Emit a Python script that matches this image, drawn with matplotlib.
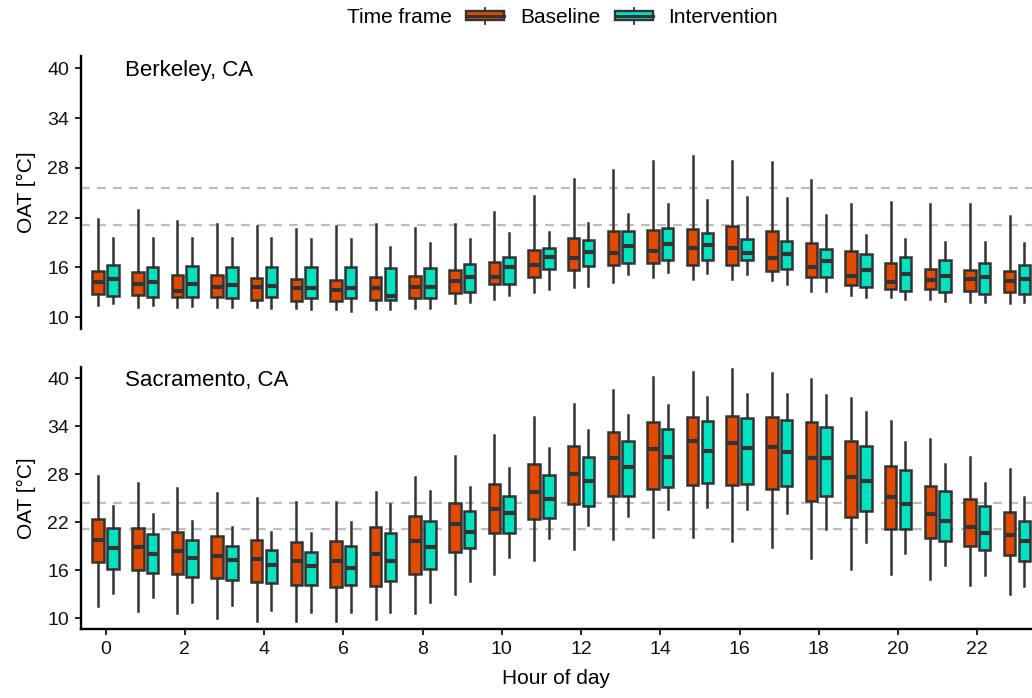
import matplotlib
matplotlib.use("Agg")
import matplotlib.pyplot as plt
from matplotlib.legend_handler import HandlerBase
from matplotlib.patches import Rectangle, Patch
from matplotlib.lines import Line2D

plt.rcParams['font.family'] = ['Liberation Sans', 'DejaVu Sans']

# ---------------- data ----------------
hours = list(range(24))
groups = ['Baseline', 'Intervention']
colors = {'Baseline': '#E24A00', 'Intervention': '#00E3C1'}
EDGE = '#333333'

# Berkeley, CA - Baseline
berk_base_hi  = [21.9, 22.9, 21.6, 21.2, 21.0, 20.6, 21.0, 21.2, 20.8, 21.3, 22.7, 24.6,
                 26.7, 27.7, 28.8, 29.4, 28.8, 28.7, 26.6, 23.7, 23.9, 23.6, 23.7, 22.2]
berk_base_q3  = [15.6, 15.4, 15.1, 15.1, 14.7, 14.6, 14.5, 14.8, 15.0, 15.7, 16.7, 18.1,
                 19.6, 20.4, 20.5, 20.6, 21.0, 20.4, 19.0, 18.0, 16.6, 15.8, 15.7, 15.6]
berk_base_med = [14.2, 14.0, 13.2, 13.6, 13.6, 13.5, 13.3, 13.5, 13.6, 14.4, 14.8, 16.3,
                 17.2, 17.8, 18.0, 18.3, 18.4, 17.2, 16.1, 15.0, 14.3, 14.5, 14.6, 14.4]
berk_base_q1  = [12.8, 12.7, 12.5, 12.4, 12.1, 12.0, 12.0, 12.1, 12.3, 12.9, 14.0, 14.8,
                 15.7, 16.3, 16.5, 16.3, 16.3, 15.6, 14.8, 13.9, 13.4, 13.4, 13.2, 13.0]
berk_base_lo  = [11.5, 11.3, 11.2, 11.3, 11.2, 11.1, 11.0, 11.0, 11.1, 11.7, 12.2, 13.0,
                 13.6, 14.3, 14.8, 14.6, 14.6, 14.5, 13.2, 12.7, 12.4, 12.2, 11.9, 11.7]

# Berkeley, CA - Intervention
berk_int_hi  = [19.5, 19.5, 19.5, 19.5, 19.5, 19.4, 19.4, 18.5, 18.9, 19.4, 20.1, 20.3,
                21.4, 22.5, 23.6, 24.1, 24.5, 24.4, 22.3, 19.9, 19.4, 19.1, 19.1, 19.0]
berk_int_q3  = [16.3, 16.1, 16.2, 16.1, 16.1, 16.1, 16.1, 15.9, 15.9, 16.4, 17.3, 18.3,
                19.3, 20.4, 20.8, 20.1, 19.4, 19.2, 18.2, 17.6, 17.3, 16.9, 16.6, 16.3]
berk_int_med = [14.6, 14.2, 14.0, 13.9, 13.8, 13.5, 13.5, 12.6, 13.6, 14.8, 16.1, 17.3,
                17.9, 18.6, 18.8, 18.7, 17.8, 17.6, 16.8, 15.7, 15.2, 15.0, 14.8, 14.6]
berk_int_q1  = [12.6, 12.5, 12.4, 12.3, 12.4, 12.3, 12.3, 12.1, 12.3, 13.0, 14.0, 15.8,
                16.2, 16.6, 16.9, 16.9, 16.9, 15.8, 14.9, 13.6, 13.2, 13.1, 12.8, 12.8]
berk_int_lo  = [11.7, 11.5, 11.4, 11.3, 11.1, 11.0, 10.8, 11.0, 11.1, 11.8, 12.7, 13.4,
                13.8, 15.2, 15.5, 15.3, 15.2, 14.0, 13.2, 12.4, 12.2, 12.0, 11.8, 11.8]

# Sacramento, CA - Baseline
sac_base_hi  = [27.8, 26.9, 26.3, 25.6, 25.0, 24.5, 24.5, 25.8, 27.7, 30.3, 32.9, 35.1,
                36.8, 38.5, 40.1, 40.8, 41.1, 40.7, 39.9, 37.5, 34.7, 32.4, 30.2, 28.6]
sac_base_q3  = [22.4, 21.3, 20.8, 20.3, 19.8, 19.5, 19.6, 21.4, 22.8, 24.4, 26.8, 29.3,
                31.5, 33.3, 34.5, 35.1, 35.3, 35.1, 34.5, 32.2, 29.0, 26.5, 24.9, 23.3]
sac_base_med = [19.8, 18.9, 18.4, 17.8, 17.4, 17.1, 17.2, 18.0, 19.7, 21.8, 23.6, 25.8,
                28.0, 30.0, 31.2, 32.1, 31.9, 31.4, 30.0, 27.7, 25.1, 23.0, 21.4, 20.4]
sac_base_q1  = [17.0, 16.0, 15.5, 15.0, 14.5, 14.1, 13.9, 14.0, 15.5, 18.3, 20.7, 22.4,
                24.3, 25.3, 26.1, 26.6, 26.6, 26.1, 24.7, 22.7, 21.2, 20.0, 19.0, 17.9]
sac_base_lo  = [11.5, 10.9, 10.7, 10.0, 9.6, 9.6, 9.7, 9.9, 10.7, 13.0, 15.5, 17.3,
                18.7, 19.9, 20.1, 20.1, 19.7, 18.9, 17.5, 16.1, 15.5, 14.9, 14.2, 13.0]

# Sacramento, CA - Intervention
sac_int_hi  = [24.0, 23.0, 22.1, 21.4, 20.8, 20.7, 22.0, 24.3, 25.9, 26.4, 28.8, 31.3,
               33.5, 35.4, 36.6, 37.6, 38.0, 38.0, 37.9, 35.8, 32.0, 29.3, 26.9, 25.1]
sac_int_q3  = [21.3, 20.5, 19.8, 19.0, 18.5, 18.3, 19.0, 20.6, 22.1, 23.4, 25.3, 27.9,
               30.2, 32.1, 33.6, 34.7, 35.0, 34.8, 33.9, 31.5, 28.5, 25.9, 24.0, 22.2]
sac_int_med = [18.8, 18.0, 17.5, 17.3, 16.7, 16.5, 16.3, 17.2, 18.9, 20.8, 23.1, 24.9,
               27.1, 28.9, 30.1, 30.9, 31.3, 30.8, 30.0, 27.2, 24.3, 22.2, 20.7, 19.6]
sac_int_q1  = [16.2, 15.6, 15.2, 14.8, 14.4, 14.1, 14.2, 14.6, 16.2, 18.8, 20.7, 22.5,
               24.0, 25.3, 26.4, 26.9, 26.8, 26.5, 25.3, 23.4, 21.2, 19.7, 18.5, 17.1]
sac_int_lo  = [13.1, 12.6, 12.0, 11.6, 11.0, 10.8, 10.8, 10.8, 12.0, 14.7, 17.7, 20.0,
               21.6, 22.8, 23.7, 23.9, 23.6, 23.1, 21.2, 19.5, 18.1, 16.7, 15.4, 14.0]

# dashed reference lines per city
berk_ref = [21.1, 25.6]
sac_ref = [21.1, 24.4]

cities = ['Berkeley, CA', 'Sacramento, CA']
stats = {
    'Berkeley, CA': {
        'Baseline': (berk_base_lo, berk_base_q1, berk_base_med, berk_base_q3, berk_base_hi),
        'Intervention': (berk_int_lo, berk_int_q1, berk_int_med, berk_int_q3, berk_int_hi),
    },
    'Sacramento, CA': {
        'Baseline': (sac_base_lo, sac_base_q1, sac_base_med, sac_base_q3, sac_base_hi),
        'Intervention': (sac_int_lo, sac_int_q1, sac_int_med, sac_int_q3, sac_int_hi),
    },
}
ref_lines = {'Berkeley, CA': berk_ref, 'Sacramento, CA': sac_ref}
yticks = [10, 16, 22, 28, 34, 40]
xticks = list(range(0, 24, 2))


# legend key drawn like a ggplot boxplot key
class BoxKeyHandler(HandlerBase):
    def create_artists(self, legend, orig_handle, xdescent, ydescent,
                       width, height, fontsize, trans):
        x0, y0 = -xdescent, -ydescent
        cx = x0 + width / 2
        bh = height * 0.72
        by = y0 + (height - bh) / 2
        whisk = Line2D([cx, cx], [y0 - 1, y0 + height + 1], color=EDGE, lw=1.3, transform=trans)
        box = Rectangle((x0, by), width, bh, facecolor=orig_handle.get_facecolor(),
                        edgecolor=EDGE, lw=1.7, transform=trans)
        med = Line2D([x0, x0 + width], [y0 + height / 2] * 2, color=EDGE, lw=2.2, transform=trans)
        return [whisk, box, med]


W, H = 1032, 698
fig = plt.figure(figsize=(W / 100, H / 100), dpi=100)

# pixel-based panel placement
panels = {
    'Berkeley, CA': dict(rect=[81 / W, 1 - 329 / H, 951 / W, 273 / H], ylim=(8.59, 41.48)),
    'Sacramento, CA': dict(rect=[81 / W, 1 - 629 / H, 951 / W, 262.3 / H], ylim=(8.66, 41.45)),
}

offsets = {'Baseline': -0.185, 'Intervention': 0.185}

for i, city in enumerate(cities):
    ax = fig.add_axes(panels[city]['rect'])
    for y in ref_lines[city]:
        ax.axhline(y, color='#BEBEBE', lw=1.6, ls=(0, (4, 3.2)), zorder=0.5)

    for g in groups:
        lo, q1, med, q3, hi = stats[city][g]
        bstats = [dict(whislo=lo[h], q1=q1[h], med=med[h], q3=q3[h], whishi=hi[h], fliers=[])
                  for h in hours]
        ax.bxp(bstats, positions=[h + offsets[g] for h in hours], widths=0.29,
               patch_artist=True, showfliers=False, showcaps=False, manage_ticks=False,
               boxprops=dict(facecolor=colors[g], edgecolor=EDGE, linewidth=1.8),
               medianprops=dict(color=EDGE, linewidth=3.0, solid_capstyle='butt'),
               whiskerprops=dict(color=EDGE, linewidth=1.8))

    ax.set_xlim(-0.62, 23.38)
    ax.set_ylim(*panels[city]['ylim'])
    ax.set_yticks(yticks)
    ax.set_yticklabels([str(t) for t in yticks])
    for s in ['top', 'right']:
        ax.spines[s].set_visible(False)
    ax.spines['left'].set_linewidth(1.7)
    ax.tick_params(axis='both', length=4.5, width=1.3, pad=4, labelsize=14,
                   colors='#111111')
    ax.set_ylabel('OAT [°C]', fontsize=15, labelpad=8)
    ax.text(0.046, 0.948, city, transform=ax.transAxes, ha='left', va='center', fontsize=16)

    if i == 0:
        ax.spines['bottom'].set_visible(False)
        ax.tick_params(axis='x', bottom=False, labelbottom=False)
    else:
        ax.spines['bottom'].set_linewidth(1.7)
        ax.set_xticks(xticks)
        ax.set_xticklabels([str(t) for t in xticks])
        ax.set_xlabel('Hour of day', fontsize=15, labelpad=8)

# legend across the top
handles = [Patch(facecolor=colors[g], label=g) for g in groups]
fig.text(452 / W, 1 - 17.5 / H, 'Time frame', ha='right', va='center', fontsize=15)
fig.legend(handles=handles, handler_map={Patch: BoxKeyHandler()}, loc='center left',
           bbox_to_anchor=(466 / W, 1 - 17.5 / H), ncol=2, frameon=False, fontsize=15,
           handlelength=1.83, handleheight=0.6, handletextpad=0.75, columnspacing=0.7,
           borderpad=0, borderaxespad=0)

fig.savefig('out.png', dpi=100)
